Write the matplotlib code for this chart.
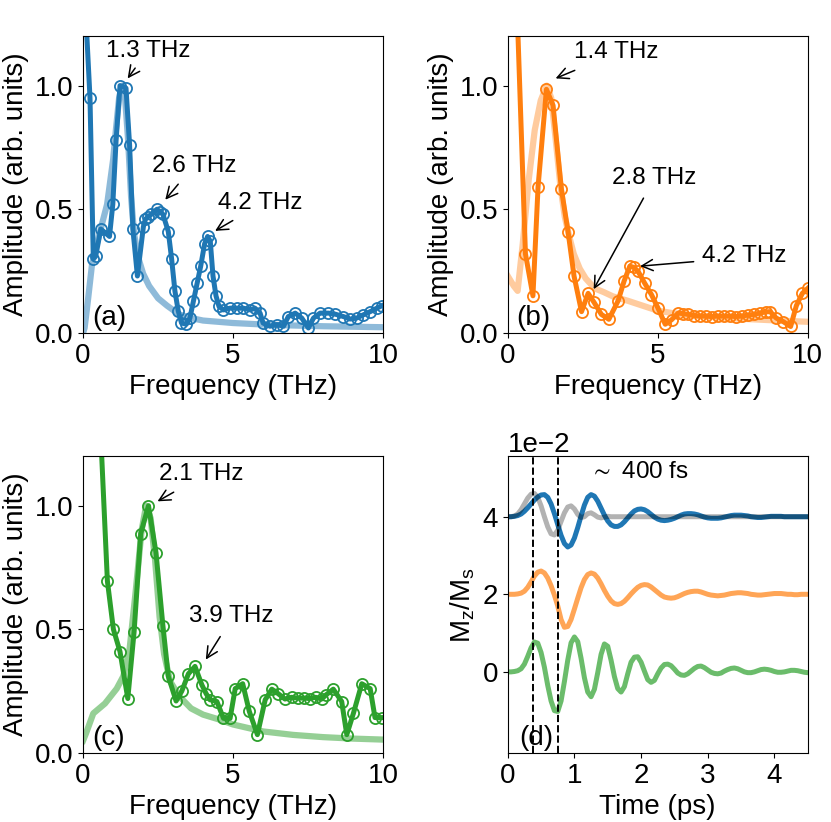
import matplotlib
matplotlib.use('Agg')
import matplotlib.pyplot as plt
import numpy as np

plt.rcParams['font.family'] = ['Liberation Sans', 'DejaVu Sans']
plt.rcParams['mathtext.default'] = 'regular'
plt.rcParams['font.size'] = 20

# ---- (a) spectrum, blue ----
fa = [0.0, 0.23, 0.34, 0.42, 0.59, 0.88, 0.99, 1.10, 1.23, 1.43, 1.55, 1.66, 1.81,
      2.01, 2.08, 2.17, 2.28, 2.46, 2.57, 2.66, 2.84, 2.95, 3.06, 3.17, 3.28, 3.44,
      3.56, 3.68, 3.80, 3.92, 4.05, 4.15, 4.24, 4.33, 4.43, 4.53, 4.68, 4.90, 5.12,
      5.34, 5.57, 5.73, 5.90, 6.00, 6.23, 6.46, 6.68, 6.84, 7.07, 7.29, 7.51, 7.68,
      7.90, 8.18, 8.40, 8.68, 8.90, 9.12, 9.34, 9.57, 9.79, 9.96]
amp_a = [1.50, 0.95, 0.30, 0.31, 0.42, 0.39, 0.52, 0.78, 1.00, 0.99, 0.76, 0.42, 0.23,
         0.43, 0.46, 0.47, 0.48, 0.50, 0.49, 0.48, 0.41, 0.30, 0.17, 0.09, 0.04, 0.035,
         0.06, 0.13, 0.20, 0.27, 0.36, 0.39, 0.37, 0.23, 0.15, 0.107, 0.093, 0.10, 0.10,
         0.10, 0.093, 0.10, 0.08, 0.04, 0.027, 0.034, 0.027, 0.066, 0.08, 0.06, 0.02, 0.06,
         0.08, 0.08, 0.076, 0.066, 0.056, 0.06, 0.073, 0.086, 0.10, 0.11]
fit_fa = [0.0, 0.05, 0.15, 0.3, 0.5, 0.8, 1.0, 1.1, 1.2, 1.3, 1.4, 1.5, 1.6, 1.7, 1.85,
          2.0, 2.2, 2.5, 2.8, 3.2, 3.6, 4.0, 5.0, 6.0, 7.0, 8.0, 9.0, 10.0]
fit_a = [0.0, 0.02, 0.12, 0.28, 0.38, 0.52, 0.70, 0.83, 0.95, 1.0, 0.95, 0.78, 0.55, 0.40,
         0.30, 0.24, 0.19, 0.14, 0.11, 0.075, 0.06, 0.05, 0.04, 0.034, 0.03, 0.027, 0.025, 0.023]

# ---- (b) spectrum, orange ----
fb = [0.30, 0.59, 0.84, 1.01, 1.29, 1.51, 1.79, 2.01, 2.21, 2.46, 2.68, 2.88, 3.12,
      3.37, 3.68, 3.88, 4.07, 4.20, 4.34, 4.57, 4.79, 5.01, 5.25, 5.46, 5.68, 5.85,
      6.0, 6.2, 6.4, 6.6, 6.8, 7.0, 7.2, 7.4, 7.6, 7.8, 8.0, 8.2, 8.4, 8.6, 8.75, 8.95,
      9.18, 9.43, 9.62, 9.82, 10.0]
amp_b = [1.35, 0.32, 0.15, 0.59, 0.985, 0.92, 0.58, 0.41, 0.23, 0.086, 0.16, 0.123, 0.075,
         0.055, 0.13, 0.21, 0.27, 0.265, 0.25, 0.20, 0.155, 0.10, 0.035, 0.053, 0.08, 0.078,
         0.075, 0.07, 0.068, 0.068, 0.066, 0.068, 0.068, 0.068, 0.066, 0.068, 0.072, 0.075,
         0.08, 0.085, 0.086, 0.06, 0.046, 0.026, 0.11, 0.16, 0.18]
fit_fb = [0.0, 0.1, 0.2, 0.33, 0.5, 0.7, 0.9, 1.1, 1.3, 1.45, 1.6, 1.75, 1.9, 2.05, 2.2,
          2.4, 2.6, 2.9, 3.2, 3.5, 4.0, 4.5, 5.0, 5.5, 6.0, 7.0, 8.0, 9.0, 10.0]
fit_b = [0.23, 0.21, 0.19, 0.17, 0.36, 0.62, 0.82, 0.94, 1.0, 0.95, 0.78, 0.60, 0.47, 0.39,
         0.32, 0.26, 0.22, 0.18, 0.165, 0.148, 0.13, 0.11, 0.09, 0.08, 0.072, 0.063, 0.056,
         0.05, 0.045]

# ---- (c) spectrum, green ----
fc = [0.50, 0.81, 1.01, 1.23, 1.49, 1.70, 1.92, 2.18, 2.43, 2.66, 2.84, 3.10, 3.29,
      3.51, 3.73, 3.96, 4.10, 4.23, 4.46, 4.68, 4.90, 5.07, 5.32, 5.54, 5.81, 6.07,
      6.29, 6.50, 6.73, 6.95, 7.15, 7.35, 7.55, 7.75, 7.95, 8.10, 8.34, 8.62, 8.79,
      9.01, 9.29, 9.57, 9.73, 9.95]
amp_c = [1.52, 0.695, 0.50, 0.41, 0.22, 0.49, 0.887, 1.0, 0.81, 0.515, 0.31, 0.21, 0.25,
         0.32, 0.35, 0.275, 0.24, 0.215, 0.208, 0.14, 0.14, 0.26, 0.28, 0.168, 0.074, 0.215,
         0.258, 0.24, 0.218, 0.225, 0.222, 0.222, 0.22, 0.225, 0.218, 0.235, 0.258, 0.208,
         0.074, 0.16, 0.28, 0.26, 0.143, 0.143]
fit_fc = [0.0, 0.1, 0.34, 0.73, 1.12, 1.34, 1.55, 1.75, 1.95, 2.1, 2.25, 2.4, 2.55, 2.7,
          2.9, 3.2, 3.6, 4.0, 4.57, 5.0, 6.0, 7.0, 8.0, 9.0, 10.0]
fit_c = [0.05, 0.08, 0.16, 0.20, 0.26, 0.31, 0.42, 0.65, 0.90, 1.0, 0.95, 0.78, 0.55, 0.40,
         0.29, 0.23, 0.18, 0.155, 0.134, 0.115, 0.087, 0.073, 0.064, 0.058, 0.054]

# ---- (d) time traces, units of 1e-2 ----
t = np.round(np.arange(0, 4.501, 0.05), 2)
mz_gray = [4.00, 4.00, 4.02, 4.07, 4.18, 4.33, 4.48, 4.58, 4.60, 4.50, 4.28, 4.00, 3.74,
           3.56, 3.53, 3.65, 3.88, 4.10, 4.25, 4.28, 4.20, 4.06, 3.98, 4.00, 4.08, 4.10,
           4.05, 3.99, 3.97, 3.99, 4.01, 4.00, 4.00, 4.00, 4.00, 4.00, 4.00, 4.00, 4.00,
           4.00, 4.00, 4.00, 4.00, 4.00, 4.00, 4.00, 4.00, 4.00, 4.00, 4.00, 4.00, 4.00,
           4.00, 4.00, 4.00, 4.00, 4.00, 4.00, 4.00, 4.00, 4.00, 4.00, 4.00, 4.00, 4.00,
           4.00, 4.00, 4.00, 4.00, 4.00, 4.00, 4.00, 4.00, 4.00, 4.00, 4.00, 4.00, 4.00,
           4.00, 4.00, 4.00, 4.00, 4.00, 4.00, 4.00, 4.00, 4.00, 4.00, 4.00, 4.00, 4.00]
mz_blue = [4.00, 4.00, 4.01, 4.03, 4.07, 4.14, 4.23, 4.33, 4.43, 4.51, 4.56, 4.57, 4.50,
           4.33, 4.08, 3.80, 3.52, 3.31, 3.22, 3.27, 3.45, 3.72, 4.02, 4.30, 4.50, 4.57,
           4.53, 4.40, 4.22, 4.04, 3.89, 3.79, 3.75, 3.75, 3.79, 3.87, 3.97, 4.07, 4.15,
           4.19, 4.20, 4.18, 4.13, 4.06, 3.99, 3.94, 3.91, 3.90, 3.91, 3.93, 3.96, 4.00,
           4.04, 4.07, 4.08, 4.08, 4.07, 4.05, 4.02, 3.99, 3.97, 3.96, 3.96, 3.96, 3.97,
           3.99, 4.01, 4.03, 4.04, 4.04, 4.04, 4.03, 4.02, 4.00, 3.99, 3.98, 3.98, 3.99,
           4.00, 4.01, 4.01, 4.01, 4.01, 4.00, 4.00, 4.00, 4.00, 4.00, 4.00, 4.00, 4.00]
mz_orange = [2.00, 2.00, 2.00, 2.01, 2.03, 2.08, 2.18, 2.32, 2.47, 2.57, 2.60, 2.55, 2.42,
             2.22, 1.98, 1.70, 1.35, 1.15, 1.17, 1.35, 1.62, 1.90, 2.17, 2.38, 2.51, 2.55,
             2.52, 2.42, 2.27, 2.10, 1.95, 1.83, 1.76, 1.74, 1.76, 1.82, 1.91, 2.01, 2.10,
             2.18, 2.23, 2.25, 2.24, 2.19, 2.12, 2.05, 1.98, 1.93, 1.91, 1.90, 1.91, 1.94,
             1.98, 2.02, 2.05, 2.07, 2.08, 2.08, 2.06, 2.03, 2.00, 1.98, 1.97, 1.96, 1.97,
             1.98, 2.00, 2.02, 2.03, 2.04, 2.04, 2.03, 2.02, 2.00, 1.99, 1.98, 1.98, 1.99,
             2.00, 2.01, 2.02, 2.02, 2.02, 2.01, 2.00, 2.00, 1.99, 1.99, 2.00, 2.00, 2.00]
mz_green = [0.00, 0.00, 0.01, 0.03, 0.08, 0.20, 0.40, 0.62, 0.77, 0.74, 0.50, 0.12, -0.35,
            -0.75, -1.00, -1.02, -0.75, -0.25, 0.30, 0.75, 0.90, 0.78, 0.35, -0.15, -0.52,
            -0.64, -0.45, -0.02, 0.45, 0.72, 0.66, 0.30, -0.12, -0.43, -0.52, -0.38, -0.05,
            0.25, 0.38, 0.39, 0.25, 0.02, -0.20, -0.27, -0.22, -0.05, 0.10, 0.19, 0.20, 0.16,
            0.07, -0.03, -0.08, -0.09, -0.05, 0.02, 0.09, 0.14, 0.15, 0.11, 0.05, -0.01,
            -0.04, -0.05, -0.03, 0.02, 0.06, 0.09, 0.10, 0.08, 0.04, 0.00, -0.02, -0.02, 0.00,
            0.03, 0.06, 0.07, 0.06, 0.04, 0.01, -0.01, -0.01, 0.00, 0.02, 0.04, 0.04, 0.03,
            0.01, -0.01, -0.02]
dash_t = [0.38, 0.75]

fig = plt.figure(figsize=(8.31, 8.22), dpi=100)
W, H = 0.361, 0.361
ax_a = fig.add_axes([0.100, 0.595, W, H])
ax_b = fig.add_axes([0.611, 0.595, W, H])
ax_c = fig.add_axes([0.100, 0.084, W, H])
ax_d = fig.add_axes([0.611, 0.084, W, H])

spectra = [
    (ax_a, fa, amp_a, fit_fa, fit_a, 'tab:blue', 0.5, '(a)'),
    (ax_b, fb, amp_b, fit_fb, fit_b, 'tab:orange', 0.4, '(b)'),
    (ax_c, fc, amp_c, fit_fc, fit_c, 'tab:green', 0.5, '(c)'),
]
for ax, f, a, ff, fa_, col, al, lab in spectra:
    ax.plot(ff, fa_, color=col, alpha=al, lw=4.5, zorder=1)
    ax.plot(f, a, color=col, lw=3.6, marker='o', ms=8, mfc='none', mew=1.3, zorder=2)
    ax.set_xlim(0, 10)
    ax.set_ylim(0, 1.2)
    ax.set_xticks([0, 5, 10])
    ax.set_yticks([0.0, 0.5, 1.0])
    ax.set_xlabel('Frequency (THz)')
    ax.set_ylabel('Amplitude (arb. units)')
    ax.text(0.03, 0.005, lab, transform=ax.transAxes, ha='left', va='bottom', fontsize=20)

arr = dict(arrowstyle='->', color='black', lw=1.1)
# (f_text, v_text, label, tail, tip)
notes = [
    (ax_a, 2.17, 1.14, '1.3 THz', (1.79, 1.08), (1.43, 1.02)),
    (ax_a, 3.72, 0.674, '2.6 THz', (3.23, 0.61), (2.68, 0.53)),
    (ax_a, 5.90, 0.526, '4.2 THz', (5.07, 0.46), (4.32, 0.407)),
    (ax_b, 3.62, 1.134, '1.4 THz', (2.32, 1.066), (1.51, 1.025)),
    (ax_b, 4.89, 0.627, '2.8 THz', (4.57, 0.555), (2.82, 0.167)),
    (ax_b, 7.87, 0.31, '4.2 THz', (6.29, 0.289), (4.32, 0.269)),
    (ax_c, 3.93, 1.129, '2.1 THz', (3.10, 1.06), (2.40, 1.012)),
    (ax_c, 4.93, 0.554, '3.9 THz', (4.62, 0.48), (4.04, 0.368)),
]
for ax, x, y, s, tail, tip in notes:
    ax.text(x, y, s, ha='center', va='center', fontsize=17.5)
    ax.annotate('', xy=tip, xytext=tail, arrowprops=arr)

# ---- (d) ----
scale = 1e-2
ax_d.plot(t, np.array(mz_blue) * scale, color='tab:blue', lw=3.6, zorder=2)
ax_d.plot(t, np.array(mz_gray) * scale, color='black', alpha=0.3, lw=3.6, zorder=3)
ax_d.plot(t, np.array(mz_orange) * scale, color='tab:orange', alpha=0.7, lw=3.6, zorder=2)
ax_d.plot(t, np.array(mz_green) * scale, color='tab:green', alpha=0.7, lw=3.6, zorder=2)
for x in dash_t:
    ax_d.axvline(x, color='black', ls='--', lw=1.4, zorder=4)
ax_d.set_xlim(0, 4.5)
ax_d.set_ylim(-2.09 * scale, 5.56 * scale)
ax_d.set_xticks([0, 1, 2, 3, 4])
ax_d.set_yticks([0, 2 * scale, 4 * scale])
ax_d.ticklabel_format(style='sci', axis='y', scilimits=(0, 0))
ax_d.set_xlabel('Time (ps)')
ax_d.set_ylabel('M$_z$/M$_s$')
ax_d.text(1.97, 5.15 * scale, r'$\sim$ 400 fs', ha='center', va='center', fontsize=17.5)
ax_d.text(0.04, 0.005, '(d)', transform=ax_d.transAxes, ha='left', va='bottom', fontsize=20)

fig.savefig('out.png', dpi=100)
plt.close()
